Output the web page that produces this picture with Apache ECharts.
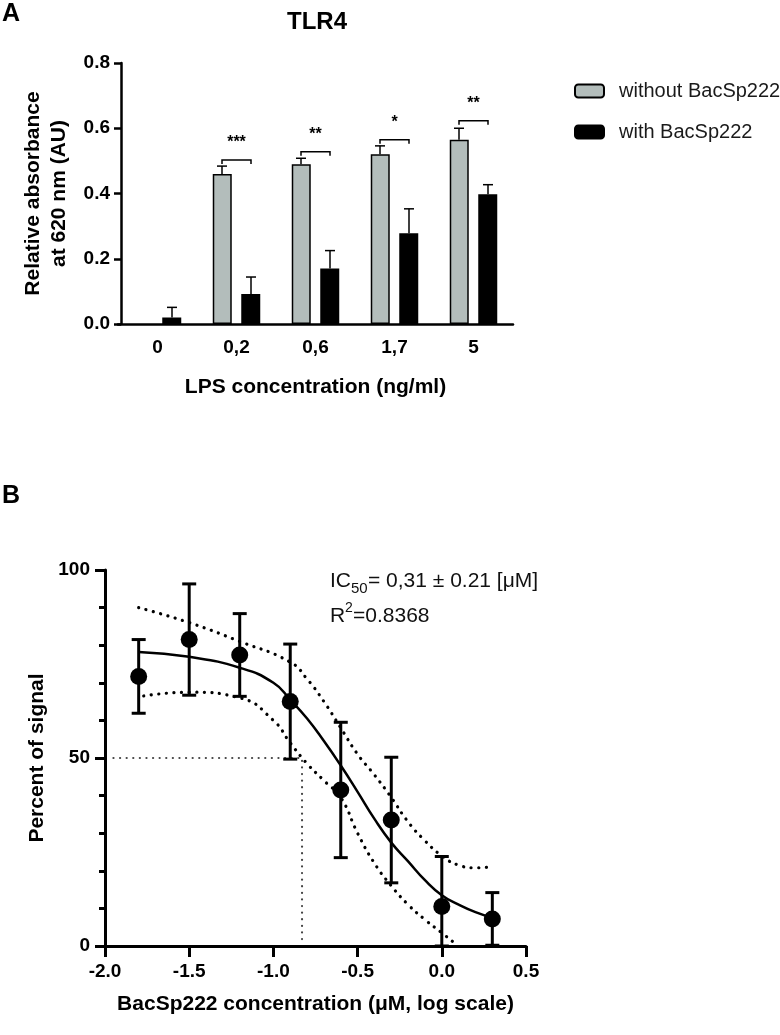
<!DOCTYPE html>
<html lang="en">
<head>
<meta charset="UTF-8">
<title>TLR4 / BacSp222</title>
<script src="https://cdn.jsdelivr.net/npm/echarts@6/dist/echarts.min.js"></script>
<style>
  * { margin: 0; padding: 0; }
  #main { width: 780px; height: 1035px; background: #fff; }
</style>
</head>
<body>
<div id="main"></div>
<script>
// ---- panel A : TLR4 absorbance ----
var lpsDoses = ['0', '0,2', '0,6', '1,7', '5'];
var withoutMean = [null, 0.46, 0.49, 0.52, 0.565];
var withoutSd = [null, 0.024, 0.018, 0.026, 0.035];
var withMean = [0.02, 0.092, 0.17, 0.278, 0.398];
var withSd = [0.031, 0.052, 0.055, 0.075, 0.029];
var sigLevel = [null, 0.503, 0.528, 0.565, 0.623];
var sigStars = ['', '***', '**', '*', '**'];

// ---- panel B : dose response ----
var logConc = [-1.8, -1.5, -1.2, -0.9, -0.6, -0.3, 0.0, 0.3];
var pctMean = [71.7, 81.5, 77.4, 65.0, 41.5, 33.5, 10.5, 7.2];
var pctSd = [9.8, 14.8, 11.0, 15.3, 18.0, 16.7, 13.3, 7.0];

// fitted curve and 95% band
var fitX = [-1.8, -1.5, -1.2, -1.0, -0.9, -0.8, -0.7, -0.6, -0.5, -0.4, -0.3, -0.2, -0.1, 0.0, 0.1, 0.2, 0.3];
var fitY = [78.2, 76.9, 74.0, 70.0, 65.5, 60.5, 54.5, 48.0, 41.0, 33.8, 27.5, 22.5, 17.5, 13.5, 11.0, 9.0, 7.5];
var upperX = [-1.8, -1.5, -1.2, -0.9, -0.8, -0.7, -0.6, -0.5, -0.4, -0.3, -0.2, -0.1, 0.0, 0.1, 0.2, 0.3];
var upperY = [90.0, 86.0, 81.0, 75.5, 71.0, 65.0, 58.0, 51.0, 45.5, 39.5, 33.0, 28.0, 24.0, 21.5, 20.8, 21.1];
var lowerX = [-1.77, -1.5, -1.2, -1.0, -0.9, -0.8, -0.7, -0.6, -0.5, -0.4, -0.3, -0.2, -0.1, 0.0, 0.07];
var lowerY = [66.5, 67.5, 66.0, 60.0, 54.0, 48.5, 44.0, 39.5, 30.0, 22.0, 16.0, 11.0, 7.0, 3.5, 1.0];
var ic50X = [-1.95, -0.83, -0.83];
var ic50Y = [50, 50, 0.5];

var FONT = '"Liberation Sans", Arial, sans-serif';
var BAR_OFF = 14.5;

function zip(xs, ys) {
    return xs.map(function (x, i) { return [x, ys[i]]; });
}

function errA(offset) {
    return function (params, api) {
        var i = api.value(0), m = api.value(1), s = api.value(2);
        var base = api.coord([i, m]);
        var top = api.coord([i, m + s]);
        var x = base[0] + offset;
        var st = { stroke: '#000', lineWidth: 1.5 };
        return {
            type: 'group', children: [
                { type: 'line', shape: { x1: x, y1: base[1], x2: x, y2: top[1] }, style: st },
                { type: 'line', shape: { x1: x - 5, y1: top[1], x2: x + 5, y2: top[1] }, style: st }
            ]
        };
    };
}

function bracket(params, api) {
    var i = api.value(0), lv = api.value(1);
    var p = api.coord([i, lv]);
    var x1 = p[0] - BAR_OFF, x2 = p[0] + BAR_OFF, y = p[1];
    return {
        type: 'group', children: [
            { type: 'polyline', shape: { points: [[x1, y + 4], [x1, y], [x2, y], [x2, y + 4]] },
              style: { stroke: '#000', lineWidth: 1.5, fill: null } },
            { type: 'text', x: p[0], y: y - 17,
              style: { text: sigStars[i], font: 'bold 16px ' + FONT, fill: '#000', align: 'center', verticalAlign: 'middle' } }
        ]
    };
}

function errB(params, api) {
    var x = api.value(0), m = api.value(1), s = api.value(2);
    var top = api.coord([x, m + s]);
    var bot = api.coord([x, Math.max(0, m - s)]);
    var st = { stroke: '#000', lineWidth: 3 };
    return {
        type: 'group', children: [
            { type: 'line', shape: { x1: top[0], y1: top[1], x2: bot[0], y2: bot[1] }, style: st },
            { type: 'line', shape: { x1: top[0] - 7, y1: top[1], x2: top[0] + 7, y2: top[1] }, style: st },
            { type: 'line', shape: { x1: bot[0] - 7, y1: bot[1], x2: bot[0] + 7, y2: bot[1] }, style: st }
        ]
    };
}

var chart = echarts.init(document.getElementById('main'));

var tickFont = { color: '#000', fontFamily: FONT, fontWeight: 'bold', fontSize: 19 };
var dotted = { color: '#000', width: 3.2, type: [0.1, 7.5], cap: 'round' };

var option = {
    animation: false,
    backgroundColor: '#fff',
    textStyle: { fontFamily: FONT },
    grid: [
        { left: 118, top: 63, width: 395, height: 261, outerBoundsMode: 'none' },
        { left: 105, top: 570, width: 421, height: 376, outerBoundsMode: 'none' }
    ],
    legend: {
        left: 569, top: 76, orient: 'vertical',
        itemWidth: 29, itemHeight: 13, itemGap: 21,
        selectedMode: false,
        data: ['without BacSp222', 'with BacSp222'],
        textStyle: { fontSize: 20, color: '#1a1a1a', fontFamily: FONT, padding: [0, 0, 0, 10] }
    },
    xAxis: [
        {
            gridIndex: 0, type: 'category', data: lpsDoses,
            axisLine: { lineStyle: { color: '#000', width: 2.5 } },
            axisTick: { alignWithLabel: true, length: 8, lineStyle: { width: 2.5, color: '#000' } },
            axisLabel: Object.assign({ margin: 14 }, tickFont),
            splitLine: { show: false },
            name: 'LPS concentration (ng/ml)', nameLocation: 'middle', nameGap: 53,
            nameTextStyle: { fontSize: 21, fontWeight: 'bold', color: '#000', fontFamily: FONT }
        },
        {
            gridIndex: 1, type: 'value', min: -2, max: 0.5, interval: 0.5,
            axisLine: { lineStyle: { color: '#000', width: 3 } },
            axisTick: { length: 11, lineStyle: { width: 3, color: '#000' } },
            axisLabel: Object.assign({ margin: 16, formatter: function (v) { return v.toFixed(1); } }, tickFont),
            splitLine: { show: false },
            name: 'BacSp222 concentration (\u03bcM, log scale)', nameLocation: 'middle', nameGap: 48,
            nameTextStyle: { fontSize: 21, fontWeight: 'bold', color: '#000', fontFamily: FONT }
        }
    ],
    yAxis: [
        {
            gridIndex: 0, type: 'value', min: 0, max: 0.8, interval: 0.2, offset: -3,
            axisLine: { show: true, onZero: false, lineStyle: { color: '#000', width: 2.5 } },
            axisTick: { show: true, length: 7, lineStyle: { width: 2.5, color: '#000' } },
            axisLabel: Object.assign({ margin: 11, formatter: function (v) { return v.toFixed(1); } }, tickFont),
            splitLine: { show: false },
            name: 'Relative absorbance\nat 620 nm (AU)', nameLocation: 'middle', nameGap: 41,
            nameTextStyle: { fontSize: 21, fontWeight: 'bold', color: '#000', lineHeight: 26, fontFamily: FONT }
        },
        {
            gridIndex: 1, type: 'value', min: 0, max: 100, interval: 50,
            axisLine: { show: true, onZero: false, lineStyle: { color: '#000', width: 3 } },
            axisTick: { show: true, length: 10, lineStyle: { width: 3, color: '#000' } },
            minorTick: { show: true, splitNumber: 5, length: 6, lineStyle: { width: 3, color: '#000' } },
            axisLabel: Object.assign({ margin: 15 }, tickFont),
            splitLine: { show: false },
            name: 'Percent of signal', nameLocation: 'middle', nameGap: 56,
            nameTextStyle: { fontSize: 21, fontWeight: 'bold', color: '#000', fontFamily: FONT }
        }
    ],
    series: [
        {
            name: 'without BacSp222', type: 'bar', xAxisIndex: 0, yAxisIndex: 0,
            data: withoutMean, barWidth: 19, barGap: '50%',
            itemStyle: { color: '#b3bdbb', borderColor: '#000', borderWidth: 1.5 }
        },
        {
            name: 'with BacSp222', type: 'bar', xAxisIndex: 0, yAxisIndex: 0,
            data: withMean, barWidth: 19,
            itemStyle: { color: '#000', borderColor: '#000', borderWidth: 1.5 }
        },
        {
            type: 'custom', xAxisIndex: 0, yAxisIndex: 0, z: 3,
            renderItem: errA(-BAR_OFF),
            data: withoutMean.map(function (m, i) { return [i, m, withoutSd[i]]; }).filter(function (d) { return d[1] != null; })
        },
        {
            type: 'custom', xAxisIndex: 0, yAxisIndex: 0, z: 3,
            renderItem: errA(BAR_OFF),
            data: withMean.map(function (m, i) { return [i, m, withSd[i]]; })
        },
        {
            type: 'custom', xAxisIndex: 0, yAxisIndex: 0, z: 3,
            renderItem: bracket,
            data: sigLevel.map(function (v, i) { return [i, v]; }).filter(function (d) { return d[1] != null; })
        },
        {
            type: 'line', xAxisIndex: 1, yAxisIndex: 1, showSymbol: false, z: 1,
            data: zip(ic50X, ic50Y),
            lineStyle: { color: '#444', width: 2.2, type: [0.1, 6.5], cap: 'round' }
        },
        {
            type: 'line', xAxisIndex: 1, yAxisIndex: 1, showSymbol: false, smooth: true,
            data: zip(upperX, upperY), lineStyle: dotted
        },
        {
            type: 'line', xAxisIndex: 1, yAxisIndex: 1, showSymbol: false, smooth: true,
            data: zip(lowerX, lowerY), lineStyle: dotted
        },
        {
            type: 'line', xAxisIndex: 1, yAxisIndex: 1, showSymbol: false, smooth: true,
            data: zip(fitX, fitY), lineStyle: { color: '#000', width: 2.5 }
        },
        {
            type: 'custom', xAxisIndex: 1, yAxisIndex: 1, z: 4,
            renderItem: errB,
            data: logConc.map(function (x, i) { return [x, pctMean[i], pctSd[i]]; })
        },
        {
            type: 'scatter', xAxisIndex: 1, yAxisIndex: 1, z: 5,
            symbol: 'circle', symbolSize: 17,
            itemStyle: { color: '#000', opacity: 1 },
            data: zip(logConc, pctMean)
        }
    ],
    graphic: [
        { type: 'text', x: 2, y: 2, style: { text: 'A', font: 'bold 25px ' + FONT, fill: '#000' } },
        { type: 'text', x: 2, y: 484, style: { text: 'B', font: 'bold 25px ' + FONT, fill: '#000' } },
        { type: 'text', x: 317, y: 22, style: { text: 'TLR4', font: 'bold 24px ' + FONT, fill: '#000', align: 'center', verticalAlign: 'middle' } },
        { type: 'text', x: 330, y: 581, style: { text: 'IC', font: '21px ' + FONT, fill: '#111', verticalAlign: 'middle' } },
        { type: 'text', x: 351, y: 589, style: { text: '50', font: '15px ' + FONT, fill: '#111', verticalAlign: 'middle' } },
        { type: 'text', x: 368, y: 581, style: { text: '= 0,31 \u00b1 0.21 [\u03bcM]', font: '21px ' + FONT, fill: '#111', verticalAlign: 'middle' } },
        { type: 'text', x: 330, y: 616, style: { text: 'R', font: '21px ' + FONT, fill: '#111', verticalAlign: 'middle' } },
        { type: 'text', x: 345, y: 608, style: { text: '2', font: '14px ' + FONT, fill: '#111', verticalAlign: 'middle' } },
        { type: 'text', x: 353, y: 616, style: { text: '=0.8368', font: '21px ' + FONT, fill: '#111', verticalAlign: 'middle' } }
    ]
};

chart.setOption(option);
</script>
</body>
</html>
